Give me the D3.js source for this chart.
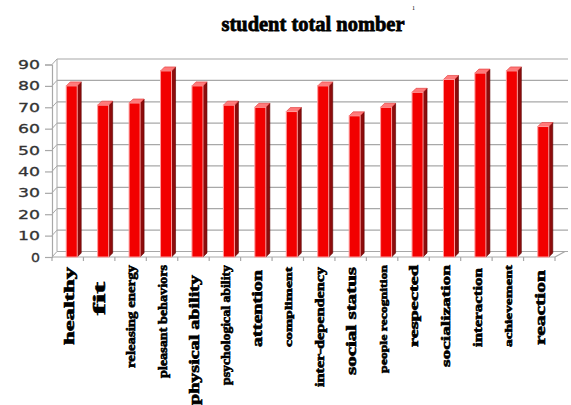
<!DOCTYPE html>
<html>
<head>
<meta charset="utf-8">
<script src="https://cdn.jsdelivr.net/npm/d3@7"></script>
<style>
  html, body { margin: 0; padding: 0; background: #fff; }
  svg { display: block; }
</style>
</head>
<body>
<div id="chart"></div>
<script>
// ---- data ----
const categories = ["healthy", "fit", "releasing energy", "pleasant behaviors", "physical ability",
  "psychological ability", "attention", "compliment", "inter-dependency", "social status",
  "people recognition", "respected", "socialization", "interaction", "achievement", "reaction"];
const values = [80, 71, 72, 87, 80, 71, 70, 68, 80, 66, 70, 77, 83, 86, 87, 61];
const yTicks = [0, 10, 20, 30, 40, 50, 60, 70, 80, 90];
const titleText = "student total nomber";

// ---- label styling (per category) ----
const labelFont = [15, 16, 12, 12, 14, 12, 14, 11, 12, 14, 11, 12, 13, 13, 11, 15];
const labelLen = [78, 33, 103, 113, 130, 120, 77, 80, 120, 108, 108, 82, 102, 79, 82, 75];
const labelTop = [267, 282, 265, 265, 275, 265, 270, 267, 267, 267, 265, 265, 265, 268, 265, 270];

const W = 571, H = 405;
const svg = d3.select("#chart").append("svg").attr("width", W).attr("height", H);

const x = d3.scaleBand().domain(categories).range([52, 555]);
const y = d3.scaleLinear().domain([0, 90]).range([257, 64.5]);
const dx = 5, dy = -5.5;     // wall depth
const bdx = 4, bdy = -4;     // bar depth
const gridColor = "#a8a8a8";

// back wall gridlines
const grid = svg.append("g");
yTicks.forEach(t => {
  grid.append("line").attr("x1", 52 + dx).attr("x2", 568)
    .attr("y1", y(t) + dy).attr("y2", y(t) + dy)
    .attr("stroke", gridColor).attr("stroke-width", 1.2);
  grid.append("line").attr("x1", 52).attr("x2", 52 + dx)
    .attr("y1", y(t)).attr("y2", y(t) + dy)
    .attr("stroke", gridColor).attr("stroke-width", 1);
});
grid.append("line").attr("x1", 52 + dx).attr("x2", 52 + dx)
  .attr("y1", y(0) + dy).attr("y2", y(90) + dy)
  .attr("stroke", gridColor).attr("stroke-width", 1);

// front y axis
const yAxis = d3.axisLeft(y).tickValues(yTicks).tickSize(7).tickPadding(5);
const ya = svg.append("g").attr("transform", "translate(52,0)").call(yAxis);
ya.select(".domain").attr("stroke", gridColor).attr("stroke-width", 1.2);
ya.selectAll(".tick line").attr("stroke", gridColor).attr("stroke-width", 1.2);
ya.selectAll(".tick text")
  .attr("font-family", "DejaVu Sans, Verdana, sans-serif")
  .attr("font-size", 12.5)
  .attr("fill", "#333")
  .attr("stroke", "#333").attr("stroke-width", 0.3)
  .attr("textLength", d => d >= 10 ? 22 : 9)
  .attr("lengthAdjust", "spacingAndGlyphs");

// floor front edge + right diagonal
svg.append("line").attr("x1", 52).attr("x2", 555).attr("y1", y(0)).attr("y2", y(0))
  .attr("stroke", gridColor).attr("stroke-width", 1.2);
svg.append("line").attr("x1", 555).attr("x2", 555 + 2 * dx).attr("y1", y(0)).attr("y2", y(0) + dy)
  .attr("stroke", gridColor).attr("stroke-width", 1.2);
const bounds = categories.map(c => x(c)).concat([x.range()[1]]);
svg.append("g").selectAll("line").data(bounds).join("line")
  .attr("x1", d => d).attr("x2", d => d)
  .attr("y1", y(0)).attr("y2", y(0) + 4)
  .attr("stroke", gridColor).attr("stroke-width", 1.2);

// bars
const bw = 11;
const bars = svg.append("g").selectAll("g").data(categories).join("g");
bars.each(function(c, i) {
  const g = d3.select(this);
  const x0 = x(c) + x.bandwidth() / 2 - 1.5;
  const x1 = x0 + bw;
  const yt = y(values[i]);
  const yb = y(0);
  g.append("polygon")
    .attr("points", [[x1, yt], [x1 + bdx, yt + bdy], [x1 + bdx, yb + bdy], [x1, yb]].join(" "))
    .attr("fill", "#8e0b0b").attr("stroke", "#5a0000").attr("stroke-width", 0.6);
  g.append("polygon")
    .attr("points", [[x0, yt], [x1, yt], [x1 + bdx, yt + bdy], [x0 + bdx, yt + bdy]].join(" "))
    .attr("fill", "#ff7a7a").attr("stroke", "#e03030").attr("stroke-width", 0.6);
  g.append("rect")
    .attr("x", x0).attr("y", yt).attr("width", bw).attr("height", yb - yt)
    .attr("fill", "#f20000").attr("stroke", "#ff9d9d").attr("stroke-width", 1);
});

// x labels
svg.append("g").selectAll("text").data(categories).join("text")
  .attr("transform", (c, i) => `translate(${x(c) + x.bandwidth() / 2 + 1},${labelTop[i]}) rotate(-90)`)
  .attr("text-anchor", "end")
  .attr("dy", "0.32em")
  .attr("font-family", "Liberation Serif, Times New Roman, serif")
  .attr("font-weight", "bold")
  .attr("font-size", (c, i) => labelFont[i])
  .attr("textLength", (c, i) => labelLen[i])
  .attr("lengthAdjust", "spacingAndGlyphs")
  .attr("fill", "#000")
  .attr("stroke", "#000").attr("stroke-width", 0.6)
  .text(c => c);

// title
svg.append("text")
  .attr("x", 313).attr("y", 31)
  .attr("text-anchor", "middle")
  .attr("font-family", "Liberation Serif, Times New Roman, serif")
  .attr("font-weight", "bold")
  .attr("font-size", 22)
  .attr("textLength", 183)
  .attr("lengthAdjust", "spacingAndGlyphs")
  .attr("fill", "#000")
  .attr("stroke", "#000").attr("stroke-width", 0.8)
  .text(titleText);
svg.append("text")
  .attr("x", 412).attr("y", 10)
  .attr("font-family", "Liberation Serif, Times New Roman, serif")
  .attr("font-size", 6)
  .attr("fill", "#000")
  .text("1");
</script>
</body>
</html>
